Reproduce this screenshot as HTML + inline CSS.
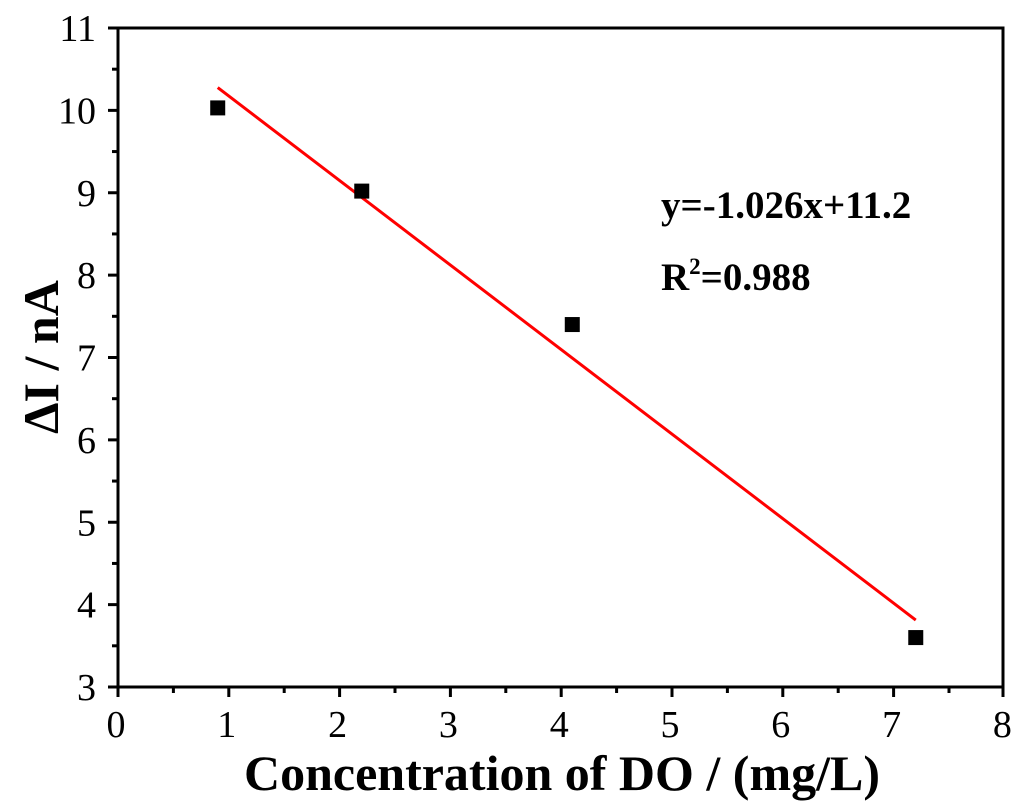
<!DOCTYPE html>
<html><head><meta charset="utf-8"><style>
html,body{margin:0;padding:0;background:#fff;}
svg{display:block;font-family:"Liberation Serif",serif;}
</style></head><body>
<svg id="chart" width="1024" height="808" viewBox="0 0 1024 808" xmlns="http://www.w3.org/2000/svg"></svg>
<script>
const xTicks=[0,1,2,3,4,5,6,7,8];
const yTicks=[3,4,5,6,7,8,9,10,11];
const xVals=[0.9,2.2,4.1,7.2];
const yVals=[10.03,9.02,7.4,3.6];
const slope=-1.026;
const intercept=11.2;
const fitRange=[0.9,7.2];

const L=118,R=1003,T=28,B=687;
const xs=v=>L+v*110.8;
const ys=v=>B-(v-3)*(B-T)/8;
const svg=document.getElementById('chart');
const NS='http://www.w3.org/2000/svg';
function mk(tag,attrs,parent){const e=document.createElementNS(NS,tag);for(const k in attrs)e.setAttribute(k,attrs[k]);(parent||svg).appendChild(e);return e;}

const frame=mk('rect',{x:L,y:T,width:R-L,height:B-T,fill:'none',stroke:'#000','stroke-width':3});



xTicks.forEach((t,i)=>{
  const x=Math.min(xs(t),R);
  const tk=mk('line',{x1:x,y1:B,x2:x,y2:B+10,stroke:'#000','stroke-width':3});
  
  
  const lb=mk('text',{x:xs(t)-2,y:B+50,'text-anchor':'middle','font-size':38});
  lb.textContent=t;
  
  
  if(i<xTicks.length-1){
    const m=mk('line',{x1:xs(t+0.5),y1:B,x2:xs(t+0.5),y2:B+6,stroke:'#000','stroke-width':3});
    
    
  }
});
yTicks.forEach((t,i)=>{
  const y=ys(t);
  const tk=mk('line',{x1:L-10,y1:y,x2:L,y2:y,stroke:'#000','stroke-width':3});
  
  
  const lb=mk('text',{x:L-22,y:y+13,'text-anchor':'end','font-size':38});
  lb.textContent=t;
  
  
  if(i<yTicks.length-1){
    const m=mk('line',{x1:L-6,y1:ys(t+0.5),x2:L,y2:ys(t+0.5),stroke:'#000','stroke-width':3});
    
    
  }
});

const fit=mk('line',{x1:xs(fitRange[0]),y1:ys(slope*fitRange[0]+intercept),x2:xs(fitRange[1]),y2:ys(slope*fitRange[1]+intercept),stroke:'#ff0000','stroke-width':3});



xVals.forEach((v,i)=>{
  const p=mk('rect',{x:xs(v)-7.5,y:ys(yVals[i])-7.5,width:15,height:15,fill:'#000'});
  
  
});

const eq=mk('text',{x:661,y:218,'font-size':39,'font-weight':'bold'});
eq.textContent='y=-1.026x+11.2';


const r2=mk('text',{x:661,y:290,'font-size':39,'font-weight':'bold'});
r2.innerHTML='R<tspan font-size="23" dy="-16">2</tspan><tspan dy="16">=0.988</tspan>';



const xt=mk('text',{x:562,y:790,'text-anchor':'middle','font-size':50,'font-weight':'bold'});
xt.textContent='Concentration of DO / (mg/L)';


const yt=mk('text',{x:0,y:0,'text-anchor':'middle','font-size':50,'font-weight':'bold',transform:'translate(58,357) rotate(-90)'});
yt.textContent='ΔI / nA';


</script>
</body></html>
